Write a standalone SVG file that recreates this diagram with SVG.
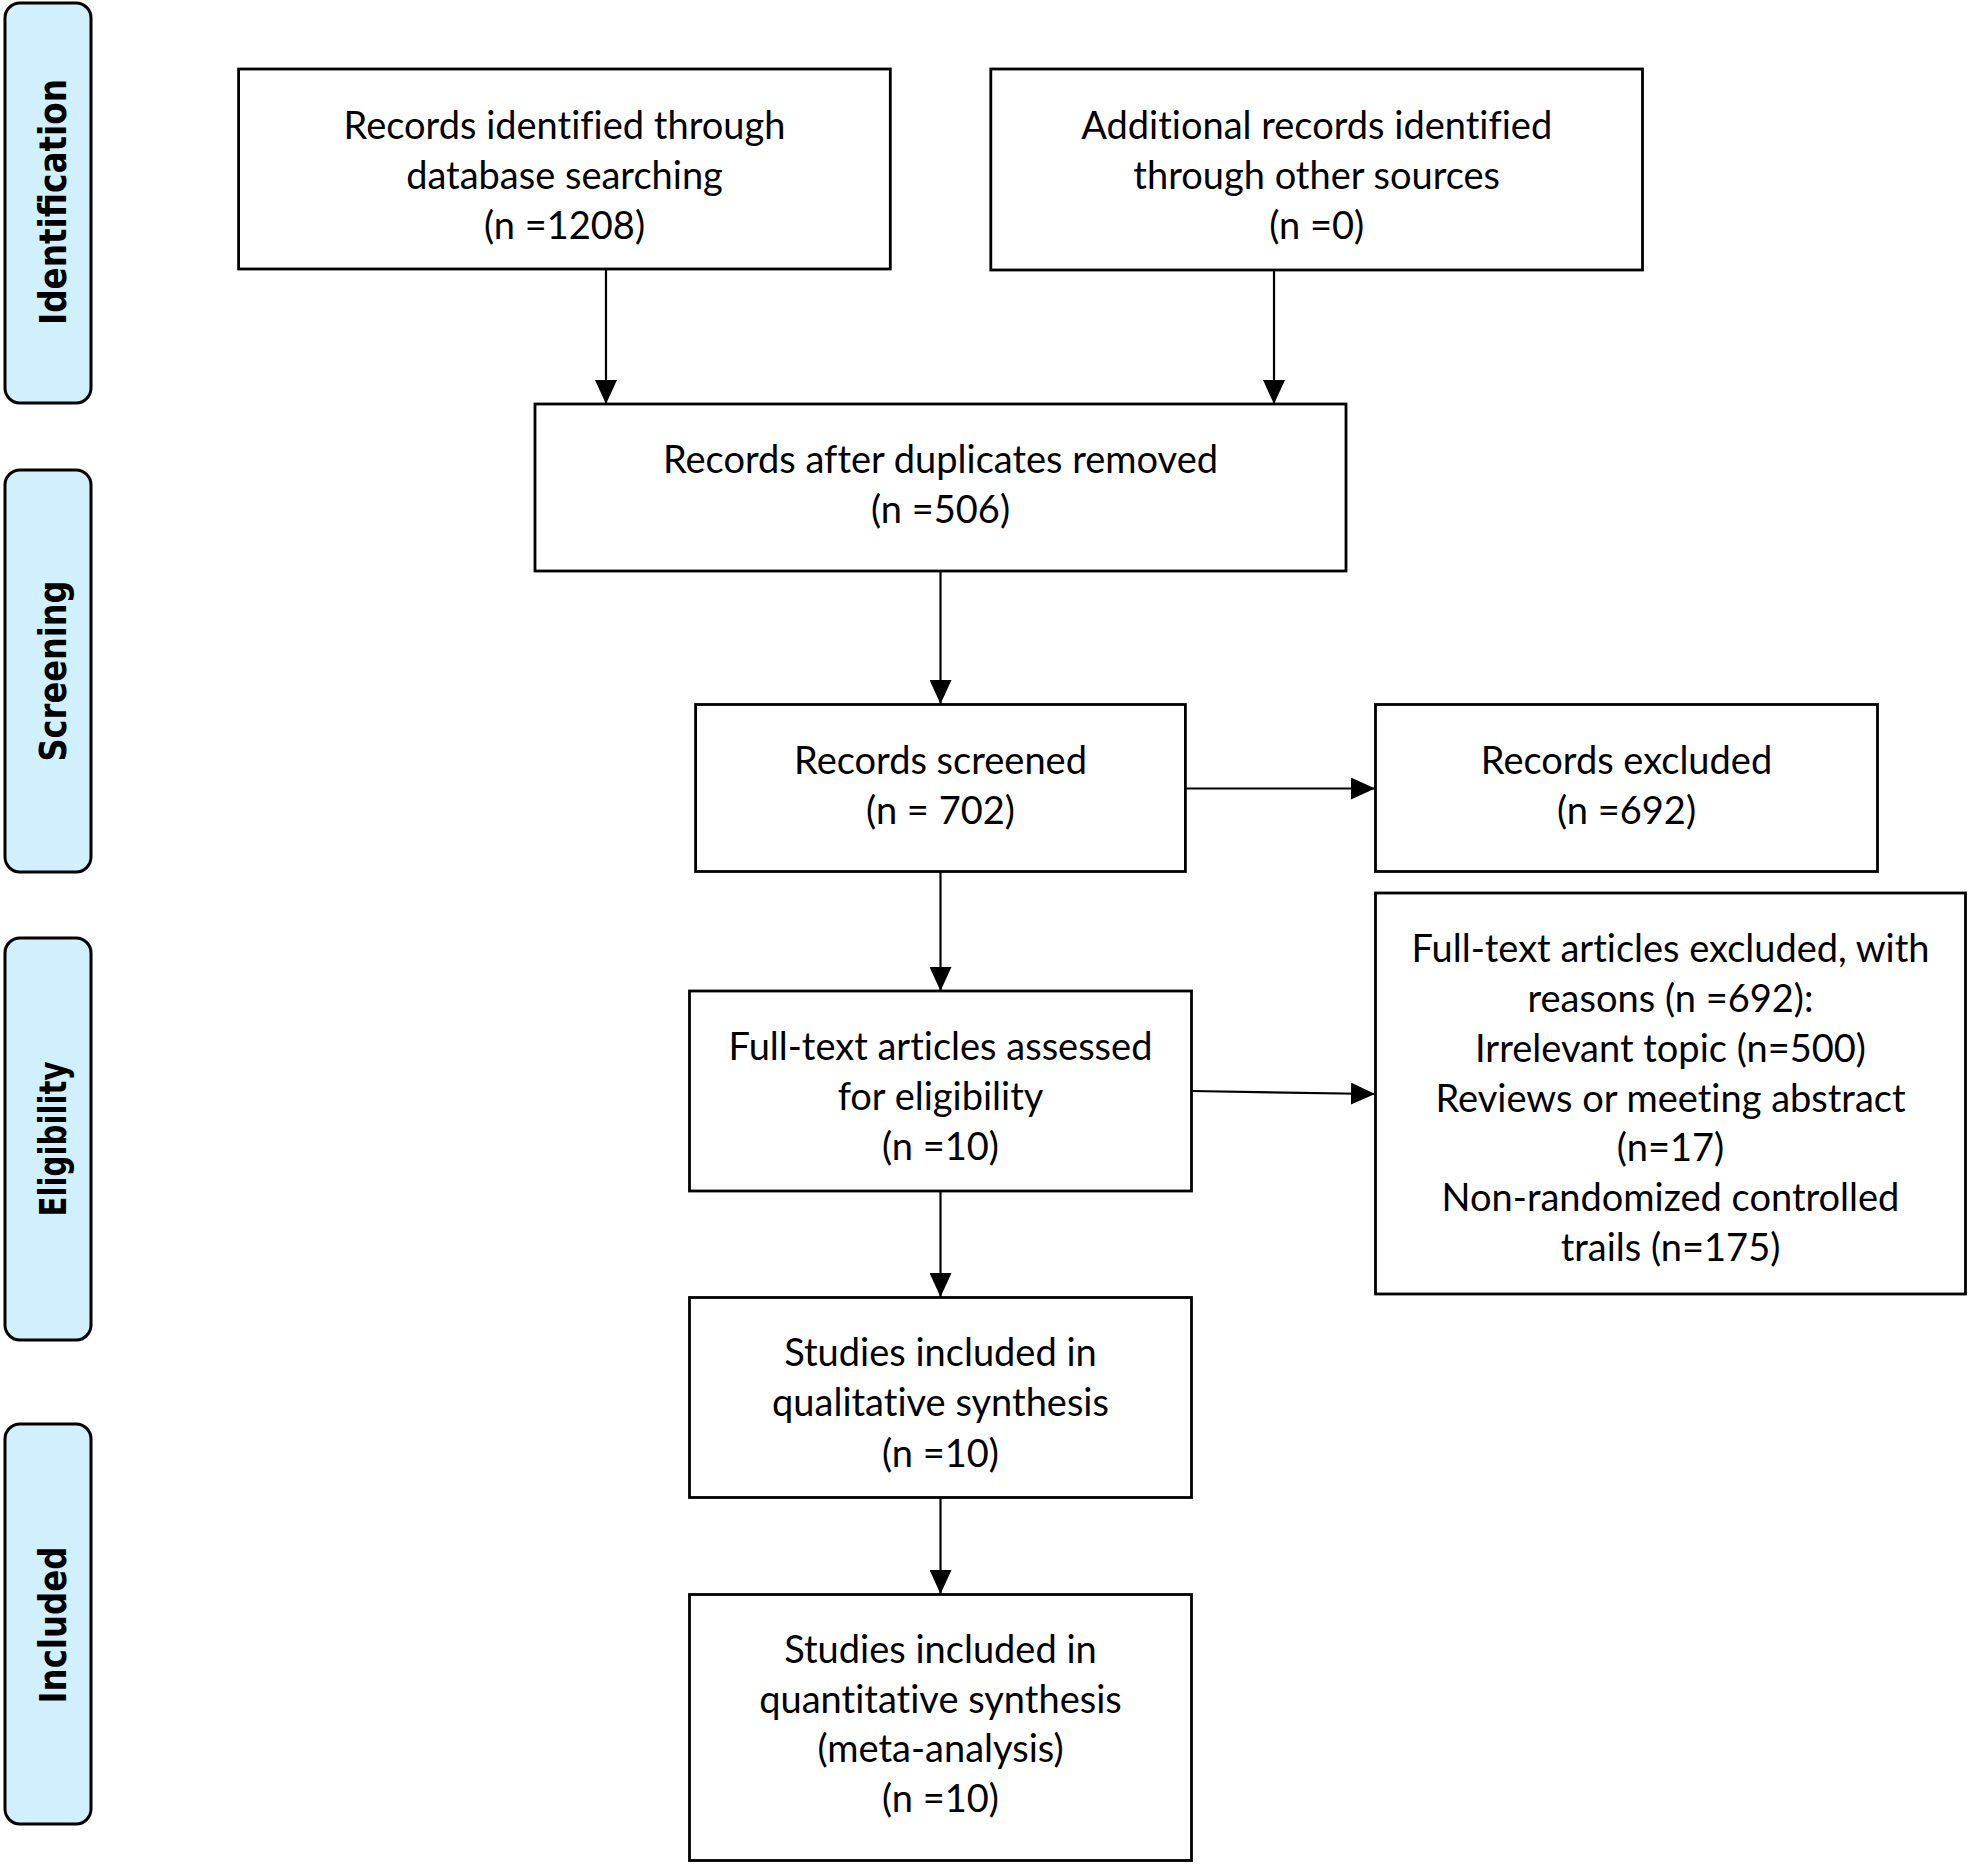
<svg xmlns="http://www.w3.org/2000/svg" width="1969" height="1865" viewBox="0 0 1969 1865">
<style>
.phase{fill:#d1f0fd;stroke:#000;stroke-width:3}
.ptxt{font-family:"DejaVu Sans",Verdana,sans-serif;font-weight:bold;font-size:37px;fill:#000;text-anchor:middle}
.box{fill:#fff;stroke:#000;stroke-width:2.8}
.t{font-family:Lato,"Liberation Sans",sans-serif;font-size:38px;fill:#000;text-anchor:middle;font-variant-ligatures:none}
.c{stroke:#000;stroke-width:2.2;fill:none;marker-end:url(#ah)}
</style>
<defs>
<marker id="ah" viewBox="0 0 24 22" refX="24" refY="11" markerWidth="24" markerHeight="22" markerUnits="userSpaceOnUse" orient="auto"><path d="M0,0 L24,11 L0,22 z" fill="#000"/></marker>
</defs>
<rect width="1969" height="1865" fill="#fff"/>
<g id="phase-identification"><rect class="phase" x="5" y="3" width="86" height="400" rx="15"/><text class="ptxt" transform="translate(66,202) rotate(-90)" textLength="246" lengthAdjust="spacingAndGlyphs">Identification</text></g>
<g id="phase-screening"><rect class="phase" x="5" y="470" width="86" height="402" rx="15"/><text class="ptxt" transform="translate(66,671) rotate(-90)" textLength="181" lengthAdjust="spacingAndGlyphs">Screening</text></g>
<g id="phase-eligibility"><rect class="phase" x="5" y="938" width="86" height="402" rx="15"/><text class="ptxt" transform="translate(66,1139) rotate(-90)" textLength="155" lengthAdjust="spacingAndGlyphs">Eligibility</text></g>
<g id="phase-included"><rect class="phase" x="5" y="1424" width="86" height="400" rx="15"/><text class="ptxt" transform="translate(66,1625) rotate(-90)" textLength="157" lengthAdjust="spacingAndGlyphs">Included</text></g>

<g id="connectors">
<line class="c" x1="606" y1="269" x2="606" y2="404"/>
<line class="c" x1="1274" y1="270" x2="1274" y2="404"/>
<line class="c" x1="940.5" y1="571" x2="940.5" y2="704"/>
<line class="c" x1="1185" y1="788.5" x2="1375" y2="788.5"/>
<line class="c" x1="940.5" y1="872" x2="940.5" y2="991"/>
<line class="c" x1="1191.5" y1="1091" x2="1375" y2="1094"/>
<line class="c" x1="940.5" y1="1191" x2="940.5" y2="1297"/>
<line class="c" x1="940.5" y1="1498" x2="940.5" y2="1594"/>
</g>

<g id="node-db"><rect class="box" x="238.6" y="69" width="651.7" height="200"/>
<text class="t" x="564.5" y="138.5">Records identified through</text>
<text class="t" x="564.5" y="188.5">database searching</text>
<text class="t" x="564.5" y="238.5">(n =1208)</text></g>

<g id="node-other"><rect class="box" x="990.8" y="69" width="651.7" height="201"/>
<text class="t" x="1316.7" y="138.5">Additional records identified</text>
<text class="t" x="1316.7" y="188.5">through other sources</text>
<text class="t" x="1316.7" y="238.5">(n =0)</text></g>

<g id="node-dup"><rect class="box" x="535" y="404" width="811" height="167"/>
<text class="t" x="940.5" y="472.5">Records after duplicates removed</text>
<text class="t" x="940.5" y="522.5">(n =506)</text></g>

<g id="node-screened"><rect class="box" x="695.6" y="704.5" width="489.8" height="167"/>
<text class="t" x="940.5" y="773.5">Records screened</text>
<text class="t" x="940.5" y="823.5">(n = 702)</text></g>

<g id="node-excluded"><rect class="box" x="1375.5" y="704.5" width="502" height="167"/>
<text class="t" x="1626.5" y="773.5">Records excluded</text>
<text class="t" x="1626.5" y="823.5">(n =692)</text></g>

<g id="node-fulltext"><rect class="box" x="689.5" y="991" width="502" height="200"/>
<text class="t" x="940.5" y="1059.5">Full-text articles assessed</text>
<text class="t" x="940.5" y="1109.5">for eligibility</text>
<text class="t" x="940.5" y="1159.5">(n =10)</text></g>

<g id="node-ftexcluded"><rect class="box" x="1375.5" y="893" width="590" height="401"/>
<text class="t" x="1670.5" y="961.5">Full-text articles excluded, with</text>
<text class="t" x="1670.5" y="1011.5">reasons (n =692):</text>
<text class="t" x="1670.5" y="1061.5">Irrelevant topic (n=500)</text>
<text class="t" x="1670.5" y="1111.5">Reviews or meeting abstract</text>
<text class="t" x="1670.5" y="1160.5">(n=17)</text>
<text class="t" x="1670.5" y="1210.5">Non-randomized controlled</text>
<text class="t" x="1670.5" y="1260.5">trails (n=175)</text></g>

<g id="node-qual"><rect class="box" x="689.5" y="1297.5" width="502" height="200"/>
<text class="t" x="940.5" y="1365.5">Studies included in</text>
<text class="t" x="940.5" y="1415.5">qualitative synthesis</text>
<text class="t" x="940.5" y="1466.5">(n =10)</text></g>

<g id="node-quant"><rect class="box" x="689.5" y="1594.5" width="502" height="266"/>
<text class="t" x="940.5" y="1662.5">Studies included in</text>
<text class="t" x="940.5" y="1712.5">quantitative synthesis</text>
<text class="t" x="940.5" y="1761.5">(meta-analysis)</text>
<text class="t" x="940.5" y="1811.5">(n =10)</text></g>
</svg>
